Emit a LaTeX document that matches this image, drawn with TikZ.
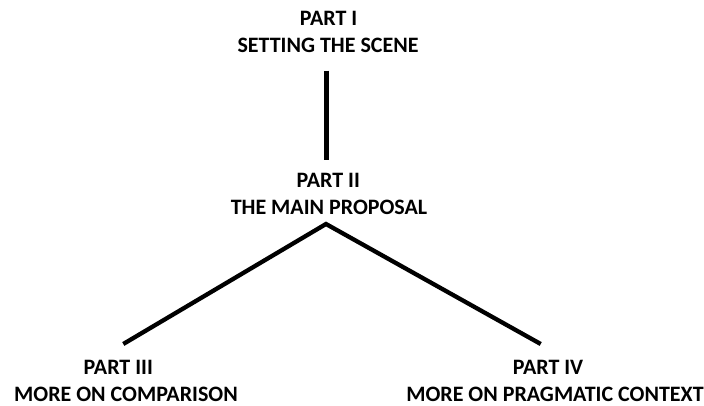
\documentclass[tikz,border=0pt]{standalone}
\usepackage{fontspec}
\setmainfont{Carlito}
\begin{document}
\begin{tikzpicture}[x=1pt,y=1pt,
  lbl/.style={anchor=base,inner sep=0pt,font=\bfseries\fontsize{22}{26}\selectfont},
  conn/.style={line width=4.3pt,line cap=butt}]
\useasboundingbox (0,0) rectangle (704,406);
% texts (y = 406 - pixel row of baseline)
\node[lbl] (p1a) at (328.5,380) {PART I};
\node[lbl] (p1b) at (328,353.3) {SETTING THE SCENE};
\node[lbl] (p2a) at (328.3,218.3) {PART II};
\node[lbl] (p2b) at (329,191) {THE MAIN PROPOSAL};
\node[lbl] (p3a) at (118.3,31.5) {PART III};
\node[lbl] (p3b) at (126,4.5) {MORE ON COMPARISON};
\node[lbl] (p4a) at (548,31.5) {PART IV};
\node[lbl] (p4b) at (555,4.5) {MORE ON PRAGMATIC CONTEXT};
% connector end points
\coordinate (v1) at (326.5,335.3);
\coordinate (v2) at (326.5,246);
\coordinate (apex) at (326,182);
\coordinate (l3) at (123.3,62);
\coordinate (l4) at (540.7,62);
\draw[conn] (v1) -- (v2);
\draw[conn,line join=miter] (l3) -- (apex) -- (l4);
\end{tikzpicture}
\end{document}
